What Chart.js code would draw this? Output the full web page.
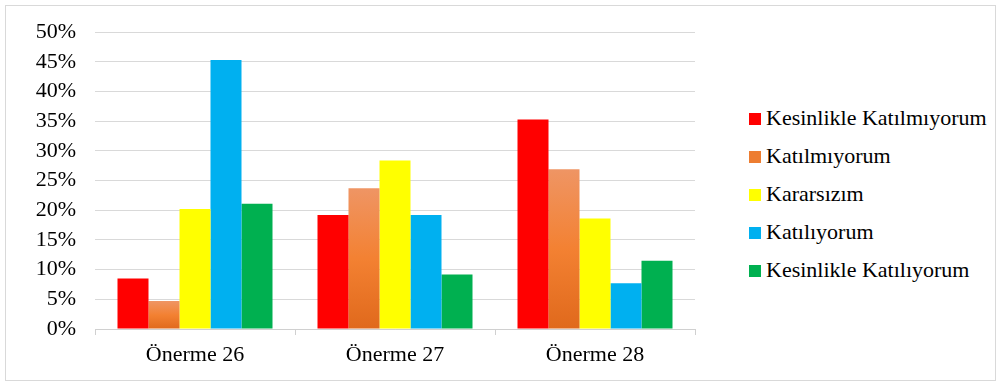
<!DOCTYPE html>
<html>
<head>
<meta charset="utf-8">
<script src="https://cdn.jsdelivr.net/npm/chart.js@4"></script>
<style>
    body { margin: 0; background: #fff; }
    #frame { position: absolute; left: 5px; top: 5px; width: 989px; height: 374px; border: 1px solid #d9d9d9; }
    #wrap { position: absolute; left: 0; top: 0; width: 720px; height: 383px; }
    #legend { position: absolute; left: 749px; top: 99px; font-family: "Liberation Serif", "Times New Roman", serif; font-size: 22px; color: #000; }
    .item { height: 38px; display: flex; align-items: center; white-space: nowrap; }
    .swatch { width: 12px; height: 12px; margin-right: 5px; margin-top: 2px; }
</style>
</head>
<body>
<div id="frame"></div>
<div id="wrap"><canvas id="bar-chart" width="720" height="383"></canvas></div>
<div id="legend"></div>
<script>
const categories = ['Önerme 26', 'Önerme 27', 'Önerme 28'];
const seriesNames = ['Kesinlikle Katılmıyorum', 'Katılmıyorum', 'Kararsızım', 'Katılıyorum', 'Kesinlikle Katılıyorum'];
const kesinlikleKatilmiyorum = [8.5, 19.2, 35.3];
const katilmiyorum = [4.7, 23.7, 26.9];
const kararsizim = [20.2, 28.4, 18.6];
const katiliyorum = [45.3, 19.2, 7.7];
const kesinlikleKatiliyorum = [21.1, 9.2, 11.5];
const yTicks = [0, 5, 10, 15, 20, 25, 30, 35, 40, 45, 50];

const colors = ['#ff0000', '#ed7d31', '#ffff00', '#00b0f0', '#00b050'];
const values = [kesinlikleKatilmiyorum, katilmiyorum, kararsizim, katiliyorum, kesinlikleKatiliyorum];

// degradé par barre pour la série orange
function orangeFill(context) {
    const chart = context.chart;
    const y = chart.scales.y;
    if (!y || context.raw == null) return colors[1];
    const top = y.getPixelForValue(context.raw);
    const bottom = y.getPixelForValue(0);
    if (!isFinite(top) || !isFinite(bottom) || top === bottom) return colors[1];
    const g = chart.ctx.createLinearGradient(0, top, 0, bottom);
    g.addColorStop(0, '#ef9564');
    g.addColorStop(0.5, '#f38132');
    g.addColorStop(1, '#e0691c');
    return g;
}

const datasets = seriesNames.map((name, i) => ({
    label: name,
    data: values[i],
    backgroundColor: i === 1 ? orangeFill : colors[i],
    borderWidth: 0,
    categoryPercentage: 0.775,
    barPercentage: 1
}));

const serif = '"Liberation Serif", "Times New Roman", serif';

const ctx = document.getElementById('bar-chart').getContext('2d');
new Chart(ctx, {
    type: 'bar',
    data: { labels: categories, datasets: datasets },
    options: {
        responsive: false,
        animation: false,
        layout: { padding: { top: 30, right: 25, bottom: 0, left: 0 } },
        plugins: {
            legend: { display: false },
            tooltip: { enabled: false }
        },
        scales: {
            x: {
                grid: { drawOnChartArea: false, drawTicks: true, tickLength: 6, color: '#d0d0d0' },
                border: { color: '#d0d0d0', width: 1 },
                ticks: { color: '#000', padding: 7, font: { family: serif, size: 22 } },
                afterFit: scale => { scale.height = 54; }
            },
            y: {
                min: 0,
                max: 50,
                afterBuildTicks: scale => { scale.ticks = yTicks.map(v => ({ value: v })); },
                grid: { color: '#d9d9d9', drawTicks: false, lineWidth: 1 },
                border: { display: false },
                ticks: {
                    color: '#000',
                    padding: 19,
                    font: { family: serif, size: 22 },
                    callback: v => v + '%'
                },
                afterFit: scale => { scale.width = 95; }
            }
        }
    }
});

// légende à droite
const legend = document.getElementById('legend');
seriesNames.forEach((name, i) => {
    const row = document.createElement('div');
    row.className = 'item';
    const sw = document.createElement('span');
    sw.className = 'swatch';
    sw.style.background = colors[i];
    const txt = document.createElement('span');
    txt.textContent = name;
    row.appendChild(sw);
    row.appendChild(txt);
    legend.appendChild(row);
});
</script>
</body>
</html>
